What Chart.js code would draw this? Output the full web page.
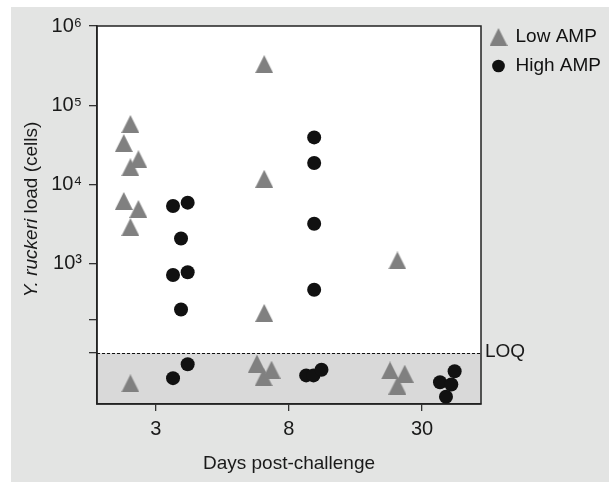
<!DOCTYPE html>
<html lang="en">
<head>
  <meta charset="UTF-8" />
  <title>Y. ruckeri load</title>
  <script src="https://cdn.jsdelivr.net/npm/chart.js"></script>
  <style>
    body { margin: 0; background: #fff; }
    #panel { position: absolute; left: 11px; top: 7px; width: 598px; height: 475px; background: #e3e4e3; }
  </style>
</head>
<body>
  <div id="panel"><canvas id="loadChart" width="598" height="475"></canvas></div>
  <script>
    // sampling days, drawn at x = 0, 1, 2
    const days = ['3', '8', '30'];

    // y ticks (cells) and what is written next to them
    const yTickValues = [1e6, 1e5, 1e4, 1e3, 200, 75];
    const yTickLabels = ['10⁶', '10⁵', '10⁴', '10³', '', ''];
    const loq = 75;

    // Low AMP (triangles): day index, sideways jitter, cells
    const lowDay    = [0, 0, 0, 0, 0, 0, 0, 0, 1, 1, 1, 1, 1, 1, 2, 2, 2, 2];
    const lowJitter = [-0.19, -0.24, -0.13, -0.19, -0.24, -0.13, -0.19, -0.19, -0.185, -0.185, -0.185, -0.24, -0.13, -0.19, -0.185, -0.24, -0.13, -0.185];
    const lowCells  = [58000, 33300, 20800, 16500, 6200, 4900, 2900, 31, 330000, 11800, 240, 55, 46, 37, 1100, 45, 41, 29];

    // High AMP (circles)
    const highDay    = [0, 0, 0, 0, 0, 0, 0, 0, 1, 1, 1, 1, 1, 1, 1, 2, 2, 2, 2];
    const highJitter = [0.13, 0.24, 0.19, 0.13, 0.24, 0.19, 0.24, 0.13, 0.19, 0.19, 0.19, 0.19, 0.13, 0.185, 0.245, 0.135, 0.245, 0.18, 0.22];
    const highCells  = [5350, 5900, 2080, 720, 780, 265, 54, 36, 39300, 18700, 3200, 470, 39, 39, 46, 32, 44, 21, 30];

    const yTitleItalic = 'Y. ruckeri';
    const yTitleRest = ' load (cells)';
    const fontFamily = '"Liberation Sans", Arial, sans-serif';
    const textColor = '#1a1a1a';

    Chart.defaults.font.family = fontFamily;
    Chart.defaults.color = textColor;

    function makeTriangle(size, color) {
      const c = document.createElement('canvas');
      c.width = size;
      c.height = size;
      const g = c.getContext('2d');
      g.fillStyle = color;
      g.beginPath();
      g.moveTo(size / 2, 0);
      g.lineTo(size, size);
      g.lineTo(0, size);
      g.closePath();
      g.fill();
      return c;
    }
    const triangle = makeTriangle(18, '#808080');

    function points(day, jitter, cells) {
      return cells.map((v, i) => ({ x: day[i] + jitter[i], y: v }));
    }

    // white plot box, grey band under the LOQ, dotted LOQ line, frame
    const plotArea = {
      id: 'plotArea',
      beforeDraw(chart) {
        const { ctx, chartArea: a, scales: { y } } = chart;
        const yL = Math.round(y.getPixelForValue(loq));
        ctx.save();
        ctx.fillStyle = '#fff';
        ctx.fillRect(a.left, a.top, a.width, a.height);
        ctx.fillStyle = '#d9d9d9';
        ctx.fillRect(a.left, yL, a.width, a.bottom - yL);
        ctx.strokeStyle = '#111';
        ctx.lineWidth = 1;
        ctx.setLineDash([3, 2]);
        ctx.beginPath();
        ctx.moveTo(a.left, yL + 0.5);
        ctx.lineTo(a.right, yL + 0.5);
        ctx.stroke();
        ctx.setLineDash([]);
        ctx.strokeStyle = '#222';
        ctx.lineWidth = 1.5;
        ctx.strokeRect(a.left, a.top, a.width, a.height);
        ctx.restore();
      },
      afterDraw(chart) {
        const { ctx, chartArea: a, scales: { y } } = chart;
        ctx.save();
        ctx.fillStyle = textColor;
        // LOQ label
        ctx.font = '19px ' + fontFamily;
        ctx.textBaseline = 'middle';
        ctx.fillText('LOQ', a.right + 4, y.getPixelForValue(loq) - 1);
        // y title, part italic
        ctx.translate(a.left - 60, (a.top + a.bottom) / 2 - 5.5);
        ctx.rotate(-Math.PI / 2);
        ctx.textBaseline = 'alphabetic';
        ctx.font = 'italic 19px ' + fontFamily;
        const w1 = ctx.measureText(yTitleItalic).width;
        ctx.font = '19px ' + fontFamily;
        const w2 = ctx.measureText(yTitleRest).width;
        const x0 = -(w1 + w2) / 2;
        ctx.font = 'italic 19px ' + fontFamily;
        ctx.fillText(yTitleItalic, x0, 0);
        ctx.font = '19px ' + fontFamily;
        ctx.fillText(yTitleRest, x0 + w1, 0);
        ctx.restore();
      }
    };

    // the legend sits a little higher than the plot top
    const legendNudge = {
      id: 'legendNudge',
      afterLayout(chart) {
        chart.legend.top -= 6.5;
      }
    };

    new Chart(document.getElementById('loadChart'), {
      type: 'scatter',
      data: {
        datasets: [{
          label: 'Low AMP',
          data: points(lowDay, lowJitter, lowCells),
          pointStyle: triangle,
          pointRadius: 9,
          backgroundColor: '#808080',
          borderColor: '#808080',
          borderWidth: 0
        }, {
          label: 'High AMP',
          data: points(highDay, highJitter, highCells),
          pointStyle: 'circle',
          pointRadius: 7,
          backgroundColor: '#111',
          borderColor: '#111',
          borderWidth: 0
        }]
      },
      options: {
        responsive: false,
        animation: false,
        clip: false,
        layout: { padding: { top: 17, left: 0, right: 0, bottom: 0 } },
        plugins: {
          tooltip: { enabled: false },
          legend: {
            position: 'right',
            align: 'start',
            maxWidth: 128,
            labels: {
              usePointStyle: true,
              boxWidth: 15,
              boxHeight: 9,
              padding: 10,
              color: '#111',
              font: { size: 19 }
            }
          }
        },
        scales: {
          x: {
            type: 'linear',
            min: -0.441,
            max: 2.443,
            bounds: 'data',
            afterBuildTicks: s => { s.ticks = days.map((d, i) => ({ value: i })); },
            afterFit: s => { s.height = 78; },
            ticks: {
              autoSkip: false,
              padding: 6,
              font: { size: 20 },
              callback: v => days[v]
            },
            grid: { drawOnChartArea: false, tickLength: 7, color: '#333', lineWidth: 1.3 },
            border: { color: '#222', width: 1.5 },
            title: {
              display: true,
              text: 'Days post-challenge',
              font: { size: 19 },
              padding: { top: 0, bottom: 7 }
            }
          },
          y: {
            type: 'logarithmic',
            min: 17,
            max: 1e6,
            bounds: 'data',
            afterBuildTicks: s => { s.ticks = yTickValues.map(v => ({ value: v })); },
            afterFit: s => { s.width = 86; },
            ticks: {
              autoSkip: false,
              padding: 7,
              font: { size: 20 },
              callback: v => {
                const i = yTickValues.indexOf(v);
                return i < 0 ? '' : yTickLabels[i];
              }
            },
            grid: { drawOnChartArea: false, tickLength: 8, color: '#333', lineWidth: 1.3 },
            border: { color: '#222', width: 1.5 }
          }
        }
      },
      plugins: [plotArea, legendNudge]
    });
  </script>
</body>
</html>
